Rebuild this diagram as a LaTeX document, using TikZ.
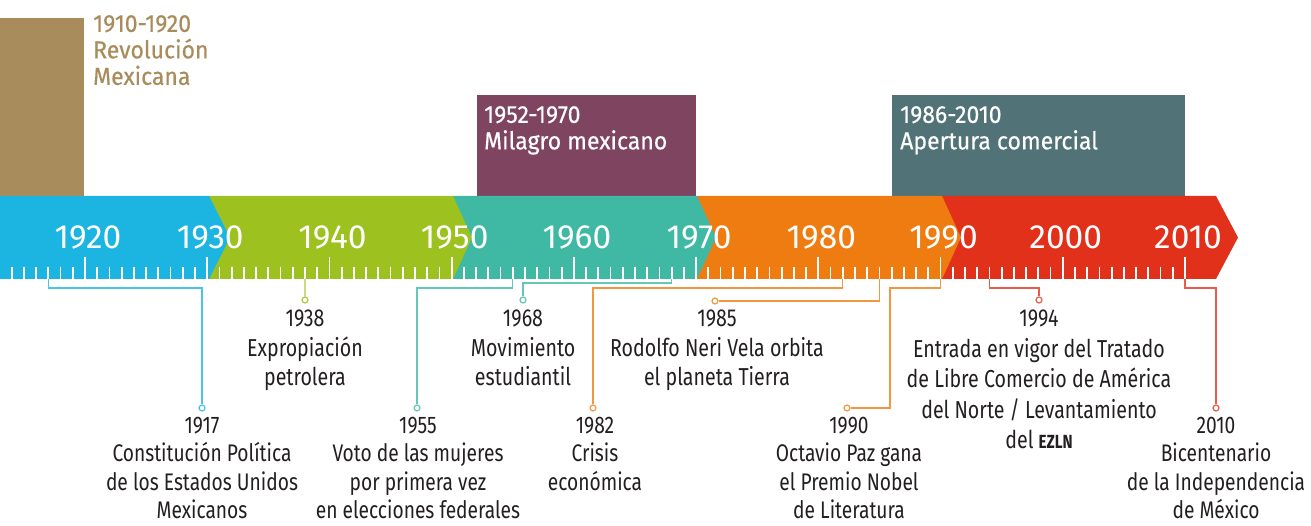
\documentclass[tikz,border=0pt]{standalone}
\usepackage{fontspec}
\newfontfamily\barfont{Fira Sans}
\newfontfamily\boxfont{Fira Sans}[FakeStretch=0.94,FakeBold=0.4]
\newfontfamily\lblfont{Fira Sans}[FakeStretch=0.8]
\definecolor{cblue}{HTML}{1CB5E2}
\definecolor{cgreen}{HTML}{9DC11E}
\definecolor{cteal}{HTML}{3FB9A3}
\definecolor{corange}{HTML}{EF7C10}
\definecolor{cred}{HTML}{E2311B}
\definecolor{cbrown}{HTML}{A88C5C}
\definecolor{cpurple}{HTML}{7E4460}
\definecolor{cslate}{HTML}{517276}
\definecolor{txt}{HTML}{231F20}
\begin{document}
\begin{tikzpicture}[x=1pt,y=-1pt,
  tick/.style={draw=white,line width=1.8pt},
  yearlbl/.style={font=\barfont\fontsize{33.5}{33.5}\selectfont,text=white,inner sep=0pt,anchor=center},
  boxtxt/.style={font=\boxfont\fontsize{24.5}{26.5}\selectfont,align=left,inner sep=0pt,anchor=north west},
  lbl/.style={font=\lblfont\fontsize{24.5}{29.5}\selectfont,text=txt,align=center,anchor=north,inner sep=0pt},
  lbllow/.style={lbl,font=\lblfont\fontsize{24}{28.5}\selectfont},
  conn/.style={line width=1.3pt},
  dot/.style={circle,draw,fill=white,line width=1.2pt,inner sep=0pt,minimum size=6pt}]
\useasboundingbox (0,0) rectangle (1311,526);
% period boxes
\fill[cbrown] (0,18) rectangle (84,196);
\fill[cpurple] (477,95) rectangle (696,196);
\fill[cslate] (892,95) rectangle (1185,196);
\node[boxtxt,text=cbrown] (rev) at (93,15) {1910-1920\\Revoluci\'on\\Mexicana};
\node[boxtxt,text=white] (mil) at (484,106) {1952-1970\\Milagro mexicano};
\node[boxtxt,text=white] (ape) at (900,106) {1986-2010\\Apertura comercial};
% bar segments (right to left)
\fill[cred] (942,196) -- (1216,196) -- (1238,237.5) -- (1216,279) -- (942,279) -- cycle;
\fill[corange] (697,196) -- (942,196) -- (961,237.5) -- (942,279) -- (697,279) -- cycle;
\fill[cteal] (453,196) -- (697,196) -- (716,237.5) -- (697,279) -- (453,279) -- cycle;
\fill[cgreen] (209,196) -- (453,196) -- (472,237.5) -- (453,279) -- (209,279) -- cycle;
\fill[cblue] (0,196) -- (209,196) -- (230,237.5) -- (209,279) -- (0,279) -- cycle;
% ticks
\foreach \yr in {1914,...,2010}{
  \draw[tick] ({85+(\yr-1920)*12.222},267) -- ({85+(\yr-1920)*12.222},279);
}
\foreach \yr in {1920,1930,...,2010}{
  \draw[tick] ({85+(\yr-1920)*12.222},257) -- ({85+(\yr-1920)*12.222},279);
  \node[yearlbl] (y\yr) at ({88+(\yr-1920)*12.222},237) {\yr};
}
% tick anchors
\foreach \yr in {1917,1938,1955,1968,1982,1985,1990,1994,2010}{
  \coordinate (t\yr) at ({85+(\yr-1920)*12.222},279);
}
% dots
\node[dot,draw=cblue!80!white] (c1917) at (202,408) {};
\node[dot,draw=cgreen!85!white] (c1938) at (305,300) {};
\node[dot,draw=cteal!80!white] (c1955) at (417,408) {};
\node[dot,draw=cteal!80!white] (c1968) at (523,300) {};
\node[dot,draw=corange!80!white] (c1982) at (593,408) {};
\node[dot,draw=corange!80!white] (c1985) at (715,301) {};
\node[dot,draw=corange!80!white] (c1990) at (847,408) {};
\node[dot,draw=cred!80!white] (c1994) at (1039,300) {};
\node[dot,draw=cred!80!white] (c2010) at (1216,408) {};
\coordinate (k1990) at (890,408);
% connectors
\draw[conn,cblue!80!white] (t1917) -- ++(0,9) -| (c1917.north);
\draw[conn,cgreen!85!white] (t1938) -- (c1938.north);
\draw[conn,cteal!80!white] (t1955) -- ++(0,9) -| (c1955.north);
\draw[conn,cteal!80!white] (t1968) -- ++(0,4) -| (c1968.north);
\draw[conn,corange!80!white] (t1982) -- ++(0,9) -| (c1982.north);
\draw[conn,corange!80!white] (t1985) |- (c1985.east);
\draw[conn,corange!80!white] (t1990) -- ++(0,9) -| (k1990) -- (c1990.east);
\draw[conn,cred!80!white] (t1994) -- ++(0,9) -| (c1994.north);
\draw[conn,cred!80!white] (t2010) -- ++(0,9) -| (c2010.north);
% labels
\node[lbllow] (l1917) at (202,417) {1917\\Constituci\'on Pol\'itica\\de los Estados Unidos\\Mexicanos};
\node[lbl] (l1938) at (305,310) {1938\\Expropiaci\'on\\petrolera};
\node[lbllow] (l1955) at (418,417) {1955\\Voto de las mujeres\\por primera vez\\en elecciones federales};
\node[lbl] (l1968) at (523,310) {1968\\Movimiento\\estudiantil};
\node[lbllow] (l1982) at (595,417) {1982\\Crisis\\econ\'omica};
\node[lbl] (l1985) at (717,310) {1985\\Rodolfo Neri Vela orbita\\el planeta Tierra};
\node[lbllow] (l1990) at (849,417) {1990\\Octavio Paz gana\\el Premio Nobel\\de Literatura};
\node[lbl,font=\lblfont\fontsize{24.5}{30.5}\selectfont] (l1994) at (1039,310) {1994\\Entrada en vigor del Tratado\\de Libre Comercio de Am\'erica\\del Norte / Levantamiento\\del {\bfseries\fontsize{19}{19}\selectfont EZLN}};
\node[lbllow] (l2010) at (1216,417) {2010\\Bicentenario\\de la Independencia\\de M\'exico};
\end{tikzpicture}
\end{document}
